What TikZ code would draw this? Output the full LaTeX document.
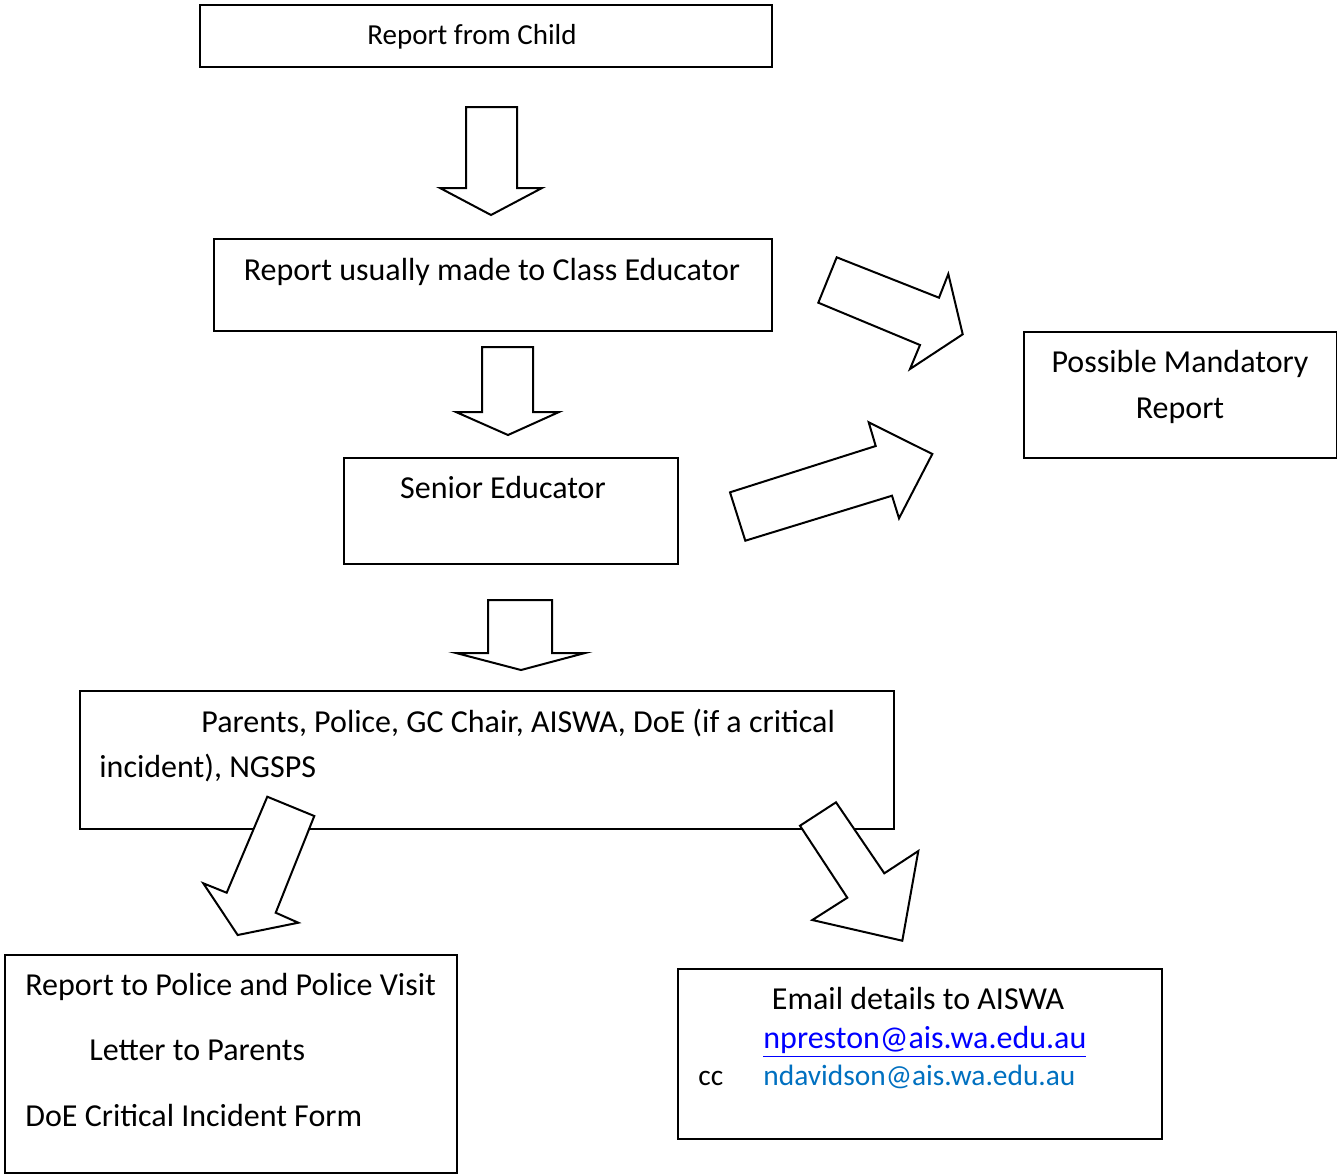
\documentclass[tikz,border=0pt]{standalone}
\usepackage{fontspec}
\setmainfont{Carlito}
\definecolor{linkblue}{RGB}{0,0,255}
\definecolor{ccblue}{RGB}{0,112,192}
\tikzset{
  box/.style={draw=black, line width=1pt, anchor=north west, inner sep=0pt},
  blockarrow/.style={draw=black, fill=white, line width=1pt, line join=miter},
  txt/.style={inner sep=0pt, anchor=base, font=\fontsize{16}{19}\selectfont},
  ltxt/.style={txt, anchor=base west}
}
\begin{document}
\begin{tikzpicture}[x=0.5pt, y=-0.5pt]
  \useasboundingbox (0,0) rectangle (1337,1174);

  % boxes
  \node[box, minimum width=286pt, minimum height=31pt]   (child)    at (199,4)    {};
  \node[box, minimum width=279pt, minimum height=46pt]   (classed)  at (213,238)  {};
  \node[box, minimum width=167pt, minimum height=53pt]   (senior)   at (343,457)  {};
  \node[box, minimum width=407pt, minimum height=69pt]   (contacts) at (79,690)   {};
  \node[box, minimum width=156.5pt, minimum height=63pt] (mandatory) at (1023,331) {};
  \node[box, minimum width=226pt, minimum height=109pt]  (police)   at (4,954)    {};
  \node[box, minimum width=242pt, minimum height=85pt]   (email)    at (677,968)  {};

  % texts
  \node[txt, font=\fontsize{14.5}{17}\selectfont] at (472,44) (childtxt) {Report from Child};
  \node[txt] at (492,280)  (classtxt)  {Report usually made to Class Educator};
  \node[txt] at (503,498)  (seniortxt) {Senior Educator};
  \node[ltxt] at (201,732) (contactsa) {Parents, Police, GC Chair, AISWA, DoE (if a critical};
  \node[ltxt] at (99,777)  (contactsb) {incident), NGSPS};
  \node[txt] at (1180,372) (mandatorya) {Possible Mandatory};
  \node[txt] at (1180,418) (mandatoryb) {Report};
  \node[ltxt] at (25,995)  (policea)   {Report to Police and Police Visit};
  \node[ltxt] at (89,1060) (policeb)   {Letter to Parents};
  \node[ltxt] at (25,1126) (policec)   {DoE Critical Incident Form};
  \node[txt] at (918,1009) (emaila)    {Email details to AISWA};
  \node[ltxt, text=linkblue] at (763,1048) (emailb) {\underline{npreston@ais.wa.edu.au}};
  \node[ltxt, font=\fontsize{14.7}{17}\selectfont] at (698,1085) (emailcc) {cc};
  \node[ltxt, text=ccblue, font=\fontsize{14.7}{17}\selectfont] at (763,1085) (emailc) {ndavidson@ais.wa.edu.au};

  % block arrows
  \draw[blockarrow] (466,107) -- (517,107) -- (517,188) -- (542,188) -- (491,215) -- (440,188) -- (466,188) -- cycle;
  \draw[blockarrow] (482,347) -- (533,347) -- (533,412) -- (559,412) -- (508,435) -- (456,412) -- (482,412) -- cycle;
  \draw[blockarrow] (488,600) -- (552,600) -- (552,653) -- (585,653) -- (521,670) -- (456,653) -- (488,653) -- cycle;
  \draw[blockarrow] (836.7,257.3) -- (939,297.7) -- (948.3,274) -- (962.7,334.3) -- (910,369) -- (920,345) -- (818.3,302.7) -- cycle;
  \draw[blockarrow] (730,492.3) -- (875.7,446) -- (868.7,422.3) -- (932.3,454) -- (899,518.3) -- (892,495.7) -- (745.3,540.7) -- cycle;
  \draw[blockarrow] (267.3,796.7) -- (314.3,816) -- (275.7,912.7) -- (298.3,922.7) -- (237.7,935) -- (203.3,883.3) -- (226.7,892.7) -- cycle;
  \draw[blockarrow] (800,825.7) -- (836,802.3) -- (884.3,873.3) -- (918.3,851) -- (902.3,940.7) -- (812.3,920) -- (847.3,897.7) -- cycle;
\end{tikzpicture}
\end{document}
